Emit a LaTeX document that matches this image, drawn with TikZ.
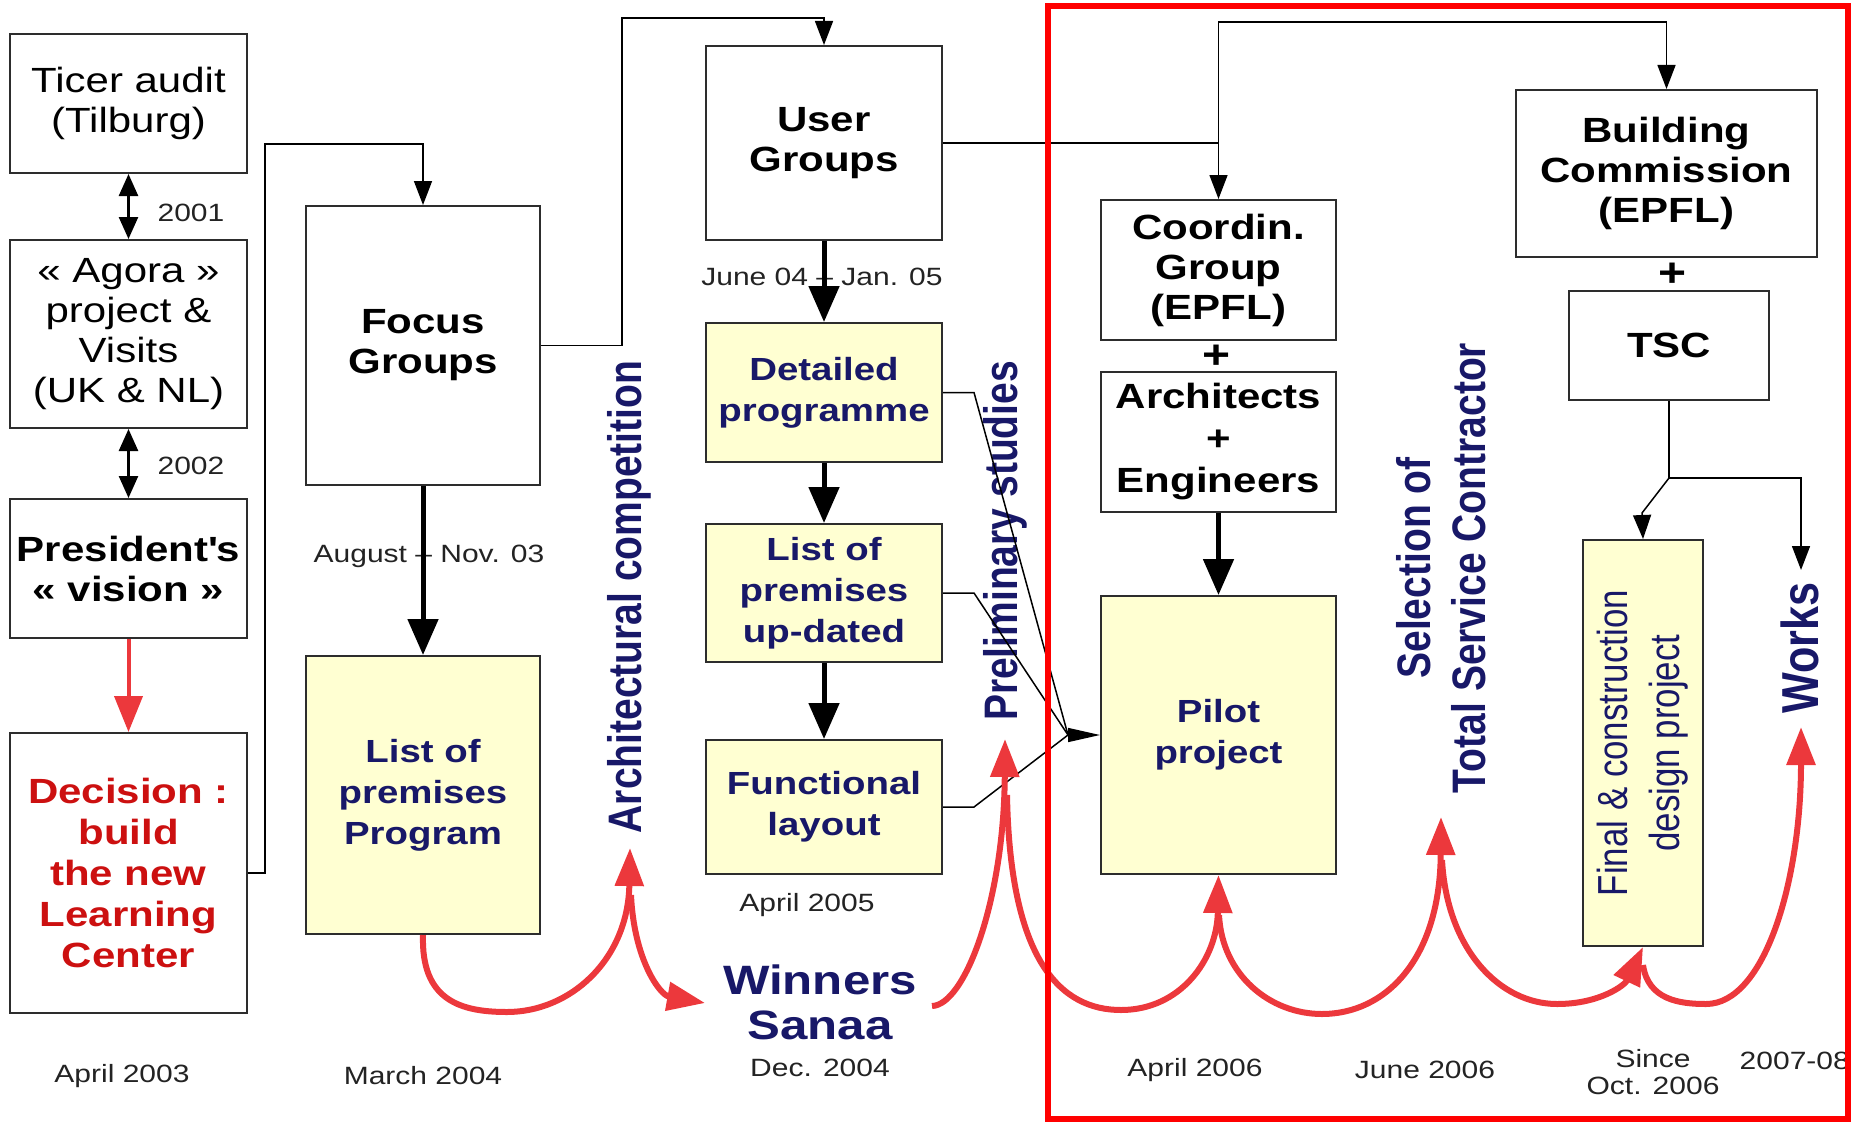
\documentclass[tikz,border=0pt]{standalone}
\usepackage{fontspec}
\setmainfont{Liberation Sans}[FakeStretch=1.2]
\newfontfamily\vfam{Liberation Sans}[FakeStretch=0.83]
\usetikzlibrary{arrows.meta}
\definecolor{navy}{RGB}{24,24,104}
\definecolor{yell}{RGB}{255,255,210}
\definecolor{redc}{RGB}{236,56,60}
\definecolor{decred}{RGB}{204,16,16}
\definecolor{boxc}{RGB}{45,45,45}
\definecolor{datec}{RGB}{35,35,35}
\newcommand\fRg{\fontsize{35}{40}\selectfont}
\newcommand\fBd{\fontsize{35}{40}\selectfont\bfseries}
\newcommand\fNv{\fontsize{32}{41}\selectfont\bfseries}
\newcommand\fDt{\fontsize{25}{27}\selectfont}
\newcommand\fRot{\vfam\fontsize{47}{55}\selectfont\bfseries}
\newcommand\fWk{\vfam\fontsize{52}{55}\selectfont\bfseries}
\newcommand\fFin{\vfam\fontsize{42}{52}\selectfont}
\newcommand\fWin{\fontsize{41}{45}\selectfont\bfseries}
\tikzset{
  box/.style={draw=boxc, line width=2pt, inner sep=0pt, align=center},
  wbox/.style={box, font=\fBd},
  ybox/.style={box, fill=yell, text=navy, font=\fNv},
  datel/.style={text=datec, font=\fDt, inner sep=0pt, align=center},
  thinln/.style={draw=black, line width=1.5pt},
  thinarr/.style={thinln, -{Triangle[length=24pt,width=18pt]}},
  thickarr/.style={draw=black, line width=5pt, -{Triangle[length=36pt,width=30pt]}},
  dblarr/.style={draw=black, line width=2.5pt, {Triangle[length=22pt,width=19pt]}-{Triangle[length=22pt,width=19pt]}},
  redarr/.style={draw=redc, line width=6pt, -{Triangle[length=38pt,width=28pt]}},
  rotl/.style={rotate=90, text=navy, font=\fRot, align=center, inner sep=0pt},
}
\begin{document}
\begin{tikzpicture}[x=1pt,y=-1pt]
\useasboundingbox (0,0) rectangle (1854,1124);
% left column
\node[box, font=\fRg, minimum width=237pt, minimum height=139pt] (ticer) at (128.5,103.5) {Ticer audit\\(Tilburg)};
\node[box, font=\fRg, minimum width=237pt, minimum height=188pt] (agora) at (128.5,334) {« Agora »\\project \&\\Visits\\(UK \& NL)};
\node[wbox, minimum width=237pt, minimum height=139pt] (pres) at (128.5,568.5) {President\textquotesingle s\\« vision »};
\node[wbox, text=decred, font={\fontsize{35}{41}\selectfont\bfseries}, minimum width=237pt, minimum height=280pt] (dec) at (128.5,873) {Decision :\\build\\the new\\Learning\\Center};
% second column
\node[wbox, minimum width=234pt, minimum height=279pt] (focus) at (423,345.5) {Focus\\Groups};
\node[ybox, minimum width=234pt, minimum height=278pt] (list) at (423,795) {List of\\premises\\Program};
% third column
\node[wbox, minimum width=236pt, minimum height=194pt] (user) at (824,143) {User\\Groups};
\node[ybox, minimum width=236pt, minimum height=139pt] (det) at (824,392.5) {Detailed\\programme};
\node[ybox, minimum width=236pt, minimum height=138pt] (upd) at (824,593) {List of\\premises\\up-dated};
\node[ybox, minimum width=236pt, minimum height=134pt] (func) at (824,807) {Functional\\layout};
% fourth column
\node[wbox, minimum width=235pt, minimum height=140pt] (coord) at (1218.5,270) {Coordin.\\Group\\(EPFL)};
\node[wbox, font={\fontsize{35}{42}\selectfont\bfseries}, minimum width=235pt, minimum height=140pt] (arch) at (1218.5,442) {Architects\\+\\Engineers};
\node[ybox, minimum width=235pt, minimum height=278pt] (pilot) at (1218.5,735) {Pilot\\project};
\node[font={\fontsize{40}{40}\selectfont\bfseries}, inner sep=0pt] (plusa) at (1216,357) {+};
% right column
\node[wbox, minimum width=301pt, minimum height=167pt] (build) at (1666.5,173.5) {Building\\Commission\\(EPFL)};
\node[wbox, minimum width=200pt, minimum height=109pt] (tsc) at (1669,345.5) {TSC};
\node[font={\fontsize{40}{40}\selectfont\bfseries}, inner sep=0pt] (plusb) at (1672,275) {+};
\node[ybox, rotate=90, font=\fFin, minimum width=406pt, minimum height=120pt] (final) at (1643,743) {Final \& construction\\design project};
% labels
\node[datel] (d2001) at (191,213) {2001};
\node[datel] (d2002) at (191,466) {2002};
\node[datel] (dapr03) at (122,1076) {April 2003};
\node[datel] (dmar04) at (423,1076) {March 2004};
\node[datel] (daug) at (429,556) {August – Nov. 03};
\node[datel] (djun) at (822,277) {June 04 – Jan. 05};
\node[datel] (dapr05) at (807,905) {April 2005};
\node[datel] (ddec04) at (820,1068) {Dec. 2004};
\node[datel] (dapr06) at (1195,1070) {April 2006};
\node[datel] (djun06) at (1425,1070) {June 2006};
\node[datel] (dsince) at (1653,1072) {Since\\Oct. 2006};
\node[datel, anchor=east] (d0708) at (1850,1061) {2007-08};
\node[text=navy, font=\fWin, align=center, inner sep=0pt] (win) at (820,1002) {Winners\\Sanaa};
\node[rotl] (archl) at (629,597) {Architectural competition};
\node[rotl] (prel) at (1005,541) {Preliminary studies};
\node[rotl] (sel) at (1441,568) {Selection of\\Total Service Contractor};
\node[rotl, font=\fWk] (works) at (1800,648) {Works};
% coordinates
\coordinate (archtip) at (630,848);
\coordinate (archstem) at (631,895);
\coordinate (wintip) at (705,1003);
\coordinate (winout) at (932,1006);
\coordinate (pretip) at (1005,739);
\coordinate (prestem) at (1007,795);
\coordinate (pilotstem) at (1219,915);
\coordinate (seltip) at (1441,817);
\coordinate (selstem) at (1442,860);
\coordinate (finstem) at (1643,965);
\coordinate (workstip) at (1801,727);
\coordinate (conv) at (1068,735);
\coordinate (ucj) at (1218.5,143);
\coordinate (tsplit) at (1669,478);
\coordinate (fbend) at (1642,513);
\coordinate (worksarr) at (1801,570);
% black connectors
\draw[dblarr] (ticer.south) -- (agora.north);
\draw[dblarr] (agora.south) -- (pres.north);
\draw[thinarr] (dec.east) -| (265,144) -| (focus.north);
\draw[thinarr] (focus.east) -| (622,18) -| (user.north);
\draw[thinarr] (user.east) -| (coord.north);
\draw[thinarr] (ucj) |- (1666.5,22) -- (build.north);
\draw[thinln] (det.east) -- (974,392.5) -- (conv);
\draw[thinln] (upd.east) -- (974,593) -- (conv);
\draw[thinln] (func.east) -- (974,807) -- (conv);
\draw[thinln, -{Triangle[length=32pt,width=14pt]}] (conv) -- (pilot.west);
\draw[thickarr] (focus.south) -- (list.north);
\draw[thickarr] (user.south) -- (det.north);
\draw[thickarr] (det.south) -- (upd.north);
\draw[thickarr] (upd.south) -- (func.north);
\draw[thickarr] (arch.south) -- (pilot.north);
\draw[thinln] (tsc.south) -- (tsplit);
\draw[thinarr] (tsplit) -- (fbend) -- (final.east);
\draw[thinarr] (tsplit) -| (worksarr);
% red connectors
\draw[draw=redc, line width=4pt, -{Triangle[length=36pt,width=28pt]}] (pres.south) -- (dec.north);
\draw[redarr] (list.south) .. controls (421,1000) and (460,1012) .. (507,1012) .. controls (570,1012) and (628,960) .. (archtip);
\draw[redarr] (archstem) .. controls (634,960) and (660,995) .. (wintip);
\draw[redarr] (winout) .. controls (965,1005) and (1004,900) .. (pretip);
\draw[redarr] (prestem) .. controls (1010,960) and (1060,1010) .. (1121,1010) .. controls (1180,1010) and (1217,960) .. (pilot.south);
\draw[redarr] (pilotstem) .. controls (1222,975) and (1270,1014) .. (1322,1014) .. controls (1385,1014) and (1440,960) .. (seltip);
\draw[redarr] (selstem) .. controls (1447,950) and (1500,1004) .. (1557,1004) .. controls (1600,1004) and (1625,985) .. (final.west);
\draw[redarr] (finstem) .. controls (1648,1000) and (1680,1004) .. (1706,1004) .. controls (1765,1004) and (1801,880) .. (workstip);
% red frame
\draw[draw=red, line width=6pt] (1048,6) rectangle (1848,1119);
\end{tikzpicture}
\end{document}
